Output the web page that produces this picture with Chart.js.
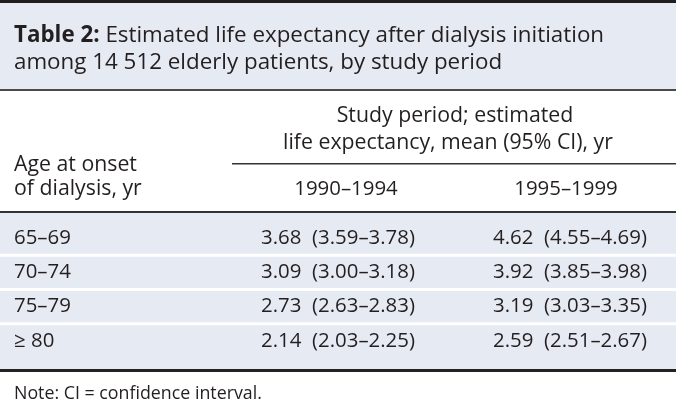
<!DOCTYPE html>
<html>
<head>
<meta charset="utf-8">
<script src="https://cdn.jsdelivr.net/npm/chart.js@4.4.0/dist/chart.umd.min.js"></script>
<style>
  html, body { margin: 0; padding: 0; background: #fff; }
  #wrap { width: 676px; height: 409px; }
</style>
</head>
<body>
<div id="wrap"><canvas id="myChart" width="676" height="409"></canvas></div>
<script>
const ageGroups = ["65–69", "70–74", "75–79", "≥ 80"];
const periods = ["1990–1994", "1995–1999"];
const mean9094 = [3.68, 3.09, 2.73, 2.14];
const low9094 = [3.59, 3.00, 2.63, 2.03];
const high9094 = [3.78, 3.18, 2.83, 2.25];
const mean9599 = [4.62, 3.92, 3.19, 2.59];
const low9599 = [4.55, 3.85, 3.03, 2.51];
const high9599 = [4.69, 3.98, 3.35, 2.67];

const titleBold = "Table 2:";
const titleLine1 = " Estimated life expectancy after dialysis initiation";
const titleLine2 = "among 14 512 elderly patients, by study period";
const headTop = ["Study period; estimated", "life expectancy, mean (95% CI), yr"];
const headLeft = ["Age at onset", "of dialysis, yr"];
const note = "Note: CI = confidence interval.";

const FONT = "'Open Sans', 'DejaVu Sans', sans-serif";
const ink = "#231f20";
const shade = "#e6eaf2";

var canvas = document.getElementById("myChart");
var ctx = canvas.getContext("2d");

// pick a font size so a reference string gets the width it has in the picture
function fit(text, width, weight) {
  ctx.font = (weight || "") + " 20px " + FONT;
  return 20 * width / ctx.measureText(text).width;
}

function cellText(m, lo, hi) {
  return m.toFixed(2) + "  (" + lo.toFixed(2) + "–" + hi.toFixed(2) + ")";
}

const titleSize = fit(titleBold + titleLine1, 586);
const bodySize = fit(headTop[1], 330);
const numSize = fit(cellText(mean9094[0], low9094[0], high9094[0]), 154);
const noteSize = fit(note, 248);

function rows(period, mean, low, high) {
  return ageGroups.map((a, i) => ({ x: period, y: a, txt: cellText(mean[i], low[i], high[i]) }));
}

const headShift = [8, -4];

const tablePlugin = {
  id: 'tablePlugin',
  beforeDraw(chart) {
    const c = chart.ctx;
    const W = chart.width;
    const y = chart.scales.y;
    const xs = chart.scales.x;
    c.save();
    c.fillStyle = "#fff";
    c.fillRect(0, 0, W, chart.height);

    // title block
    c.fillStyle = shade;
    c.fillRect(0, 3, W, 87);
    c.fillStyle = "#1e1e1e";
    c.fillRect(0, 0, W, 3);
    c.fillStyle = "#4a4a4a";
    c.fillRect(0, 89, W, 2);

    c.fillStyle = ink;
    c.textBaseline = "middle";
    c.textAlign = "left";
    c.font = "bold " + titleSize + "px " + FONT;
    c.fillText(titleBold, 14, 36);
    const bw = c.measureText(titleBold).width;
    c.font = titleSize + "px " + FONT;
    c.fillText(titleLine1, 14 + bw, 36);
    c.fillText(titleLine2, 14, 63);

    // header
    c.font = bodySize + "px " + FONT;
    c.textAlign = "center";
    c.fillText(headTop[0], 455, 116);
    c.fillText(headTop[1], 448, 143);
    c.textAlign = "left";
    c.fillText(headLeft[0], 14, 165);
    c.fillText(headLeft[1], 14, 189);
    c.fillStyle = "#333";
    c.fillRect(232, 163, W - 232, 1.5);
    c.fillStyle = ink;
    c.textAlign = "center";
    c.font = numSize + "px " + FONT;
    periods.forEach((p, i) => c.fillText(p, xs.getPixelForValue(i) + headShift[i], 189));
    c.fillStyle = "#333";
    c.fillRect(0, 211, W, 2);

    // body bands
    c.fillStyle = shade;
    c.fillRect(0, 213, W, 157);
    c.fillStyle = "#fff";
    for (let i = 1; i < ageGroups.length; i++) {
      const mid = (y.getPixelForValue(i - 1) + y.getPixelForValue(i)) / 2;
      c.fillRect(0, mid - 1.5, W, 3);
    }
    c.fillStyle = "#222";
    c.fillRect(0, 369, W, 3);

    // row labels
    c.fillStyle = ink;
    c.textAlign = "left";
    c.font = numSize + "px " + FONT;
    ageGroups.forEach((a, i) => c.fillText(a, 14, y.getPixelForValue(i)));

    c.font = noteSize + "px " + FONT;
    c.fillText(note, 14, 394);
    c.restore();
  },
  afterDatasetsDraw(chart) {
    const c = chart.ctx;
    c.save();
    c.fillStyle = ink;
    c.font = numSize + "px " + FONT;
    c.textAlign = "center";
    c.textBaseline = "middle";
    chart.data.datasets.forEach((ds, di) => {
      chart.getDatasetMeta(di).data.forEach((pt, i) => {
        c.fillText(ds.data[i].txt, pt.x, pt.y);
      });
    });
    c.restore();
  }
};

var myChart = new Chart(ctx, {
  type: 'scatter',
  data: {
    datasets: [
      { label: periods[0], data: rows(periods[0], mean9094, low9094, high9094), pointRadius: 0 },
      { label: periods[1], data: rows(periods[1], mean9599, low9599, high9599), pointRadius: 0 }
    ]
  },
  options: {
    responsive: false,
    animation: false,
    layout: { padding: { left: 338, right: 106, top: 221, bottom: 51 } },
    plugins: { legend: { display: false }, tooltip: { enabled: false } },
    scales: {
      x: { type: 'category', labels: periods, offset: false, display: false },
      y: { type: 'category', labels: ageGroups, offset: true, display: false }
    }
  },
  plugins: [tablePlugin]
});
</script>
</body>
</html>
